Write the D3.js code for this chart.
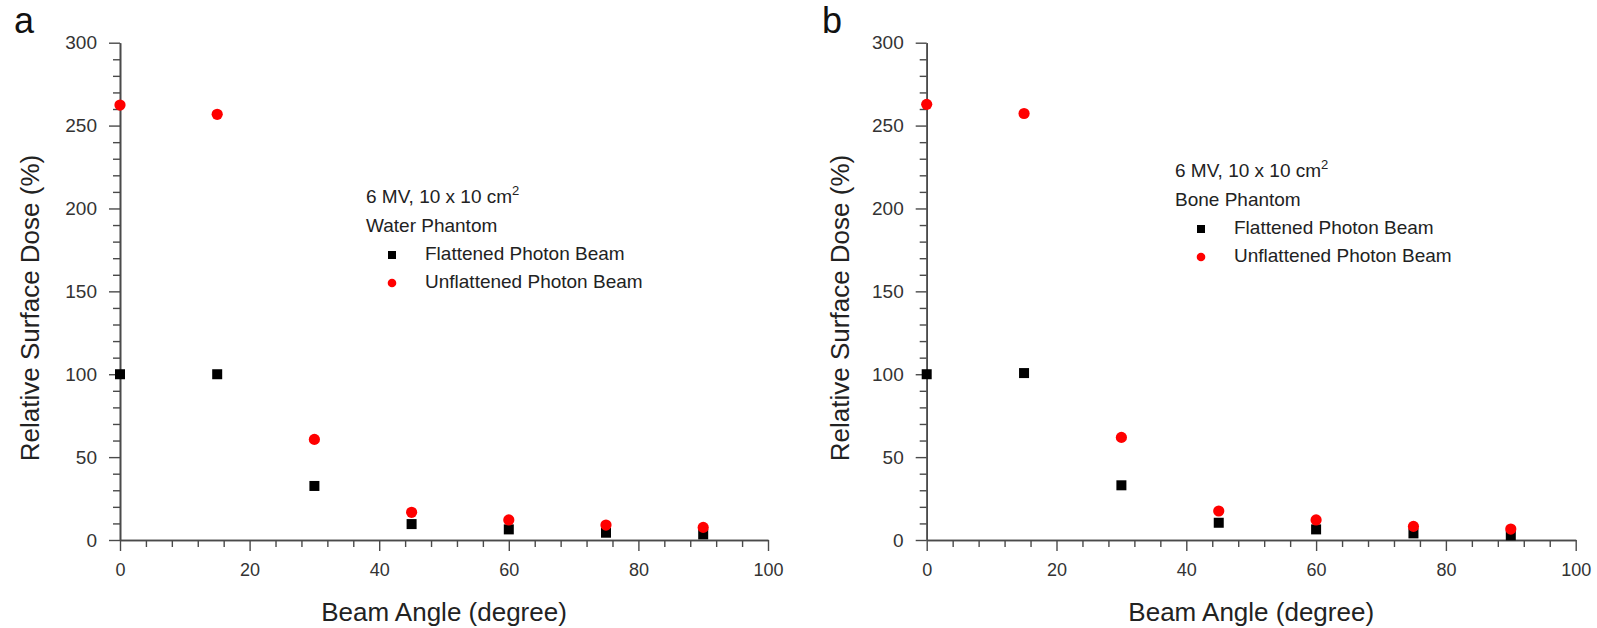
<!DOCTYPE html>
<html>
<head>
<meta charset="utf-8">
<script src="https://cdn.jsdelivr.net/npm/d3@7"></script>
<style>
  html, body { margin: 0; padding: 0; background: #fff; }
  svg { display: block; font-family: "Liberation Sans", Arial, sans-serif; }
</style>
</head>
<body>
<svg id="chart" width="1597" height="628"></svg>
<script>
// ---- Data ----
const beamAngles = [0, 15, 30, 45, 60, 75, 90];
const waterFlattened   = [100, 100, 32.6, 9.6, 6.4, 4.4, 3.4];
const waterUnflattened = [262.4, 256.8, 60.7, 16.7, 12.1, 9.0, 7.6];
const boneFlattened    = [100, 100.7, 33.0, 10.4, 6.4, 4.0, 2.8];
const boneUnflattened  = [262.8, 257.3, 61.9, 17.5, 12.1, 8.2, 6.6];
const xMajorTicks = [0, 20, 40, 60, 80, 100];
const yMajorTicks = [0, 50, 100, 150, 200, 250, 300];
const xTitle = "Beam Angle (degree)";
const yTitle = "Relative Surface Dose (%)";
const legendFlat = "Flattened Photon Beam";
const legendUnflat = "Unflattened Photon Beam";

const svg = d3.select("#chart");
const AXIS_COLOR = "#4a4a4a";

const panels = [
  { label: "a", phantom: "Water Phantom", flat: waterFlattened, unflat: waterUnflattened,
    x0: 120, x1: 768, yTop: 42.7, yBot: 540, labelX: 14, yTitleX: 39,
    legX: 366, legY: 203 },
  { label: "b", phantom: "Bone Phantom", flat: boneFlattened, unflat: boneUnflattened,
    x0: 926.7, x1: 1575.7, yTop: 42.7, yBot: 540, labelX: 822, yTitleX: 849,
    legX: 1175, legY: 177 }
];

panels.forEach(p => {
  const g = svg.append("g");
  const x = d3.scaleLinear().domain([0, 100]).range([p.x0, p.x1]);
  const y = d3.scaleLinear().domain([0, 300]).range([p.yBot, p.yTop]);

  // minor ticks
  const xMinor = d3.range(0, 101, 4).filter(v => v % 20 !== 0);
  const yMinor = d3.range(0, 301, 10).filter(v => v % 50 !== 0);

  const gxMinor = g.append("g").attr("transform", `translate(0,${p.yBot})`)
    .call(d3.axisBottom(x).tickValues(xMinor).tickSize(7).tickFormat("").tickSizeOuter(0));
  const gyMinor = g.append("g").attr("transform", `translate(${p.x0},0)`)
    .call(d3.axisLeft(y).tickValues(yMinor).tickSize(7).tickFormat("").tickSizeOuter(0));

  const gx = g.append("g").attr("transform", `translate(0,${p.yBot})`)
    .call(d3.axisBottom(x).tickValues(xMajorTicks).tickSize(11).tickSizeOuter(0).tickPadding(12));
  const gy = g.append("g").attr("transform", `translate(${p.x0},0)`)
    .call(d3.axisLeft(y).tickValues(yMajorTicks).tickSize(11).tickSizeOuter(0).tickPadding(12));

  [gxMinor, gyMinor, gx, gy].forEach(ax => {
    ax.selectAll("path.domain").attr("stroke", AXIS_COLOR).attr("stroke-width", 1.6);
    ax.selectAll(".tick line").attr("stroke", AXIS_COLOR).attr("stroke-width", 1.4);
  });
  gx.selectAll(".tick text").attr("font-size", 18).attr("fill", "#333")
    .attr("font-family", "Liberation Sans, Arial, sans-serif");
  gy.selectAll(".tick text").attr("font-size", 19).attr("fill", "#333")
    .attr("font-family", "Liberation Sans, Arial, sans-serif");

  // axis titles
  g.append("text").attr("x", (p.x0 + p.x1) / 2).attr("y", 621)
    .attr("text-anchor", "middle").attr("font-size", 26).attr("fill", "#222")
    .text(xTitle);
  g.append("text")
    .attr("transform", `translate(${p.yTitleX},308) rotate(-90)`)
    .attr("text-anchor", "middle").attr("font-size", 26).attr("fill", "#222")
    .text(yTitle);

  // panel label
  g.append("text").attr("x", p.labelX).attr("y", 33)
    .attr("font-size", 36).attr("fill", "#111").text(p.label);

  // data: flattened (black squares) then unflattened (red dots)
  const sq = 10;
  g.append("g").selectAll("rect").data(beamAngles.map((a, i) => [a, p.flat[i]]))
    .join("rect")
    .attr("x", d => x(d[0]) - sq / 2).attr("y", d => y(d[1]) - sq / 2)
    .attr("width", sq).attr("height", sq).attr("fill", "#000");
  g.append("g").selectAll("circle").data(beamAngles.map((a, i) => [a, p.unflat[i]]))
    .join("circle")
    .attr("cx", d => x(d[0])).attr("cy", d => y(d[1]))
    .attr("r", 5.6).attr("fill", "#ff0000");

  // legend
  const lg = g.append("g").attr("font-size", 19).attr("fill", "#222");
  const t1 = lg.append("text").attr("x", p.legX).attr("y", p.legY);
  t1.append("tspan").text("6 MV, 10 x 10 cm");
  t1.append("tspan").attr("font-size", 13).attr("dy", -8).text("2");
  lg.append("text").attr("x", p.legX).attr("y", p.legY + 29).text(p.phantom);
  lg.append("rect").attr("x", p.legX + 26 - 4).attr("y", p.legY + 52 - 4)
    .attr("width", 8).attr("height", 8).attr("fill", "#000");
  lg.append("text").attr("x", p.legX + 59).attr("y", p.legY + 57).text(legendFlat);
  lg.append("circle").attr("cx", p.legX + 26).attr("cy", p.legY + 80)
    .attr("r", 4.3).attr("fill", "#ff0000");
  lg.append("text").attr("x", p.legX + 59).attr("y", p.legY + 85).text(legendUnflat);
});
</script>
</body>
</html>
